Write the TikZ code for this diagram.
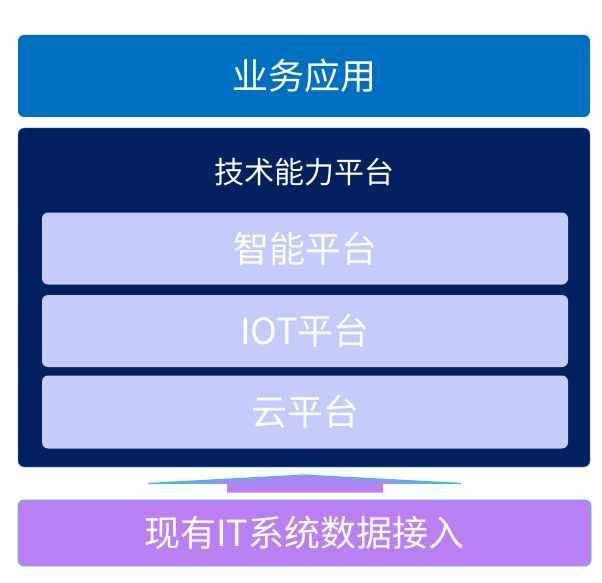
\documentclass[tikz,border=0pt]{standalone}
\usepackage{fontspec}
\usepackage{xcolor}
\newfontfamily\cjk{Noto Sans CJK SC}

\definecolor{appblue}{HTML}{0070C0}
\definecolor{techdark}{HTML}{002060}
\definecolor{layerlav}{HTML}{C5CCFB}
\definecolor{datapurple}{HTML}{BA80F2}
\definecolor{edgecyan}{HTML}{45B8EA}

\tikzset{
	box/.style={rectangle, rounded corners=6pt, inner sep=0pt, text=white, font=\cjk\fontsize{36}{36}\selectfont},
	layer/.style={box, fill=layerlav, minimum width=526pt, minimum height=72pt},
}

\begin{document}
\begin{tikzpicture}[x=1pt,y=-1pt]
	\useasboundingbox (0,0) rectangle (602,583);
	
	\node[box, fill=appblue, minimum width=572pt, minimum height=82pt] (app) at (304,76) {业务应用};
	
	\node[box, fill=techdark, draw=edgecyan, line width=0.4pt, minimum width=572pt, minimum height=339pt] (tech) at (304,297.5) {};
	\node[text=white, font=\cjk\fontsize{30}{30}\selectfont] (techtitle) at (304,172) {技术能力平台};
	
	\node[layer] (smart) at (305,248.5) {智能平台};
	\node[layer] (iot) at (305,331) {IOT平台};
	\node[layer, minimum height=73pt] (cloud) at (305,412) {云平台};
	
	\node[box, fill=datapurple, draw=edgecyan, line width=0.8pt, minimum width=573pt, minimum height=66pt] (data) at (304.5,533) {现有IT系统数据接入};
	
	\fill[datapurple] ([xshift=-77.5pt,yshift=7pt]data.north) -- ([xshift=-77.5pt,yshift=16pt]data.north)
		-- ([xshift=-156.5pt,yshift=16pt]data.north) -- ([yshift=-8pt]tech.south)
		-- ([xshift=156.5pt,yshift=16pt]data.north) -- ([xshift=78.5pt,yshift=16pt]data.north)
		-- ([xshift=78.5pt,yshift=7pt]data.north) -- cycle;
	\draw[edgecyan, line width=1.5pt] ([xshift=-156.5pt,yshift=16pt]data.north) -- ([yshift=-8pt]tech.south)
		-- ([xshift=156.5pt,yshift=16pt]data.north);
	\draw[edgecyan, line width=0.6pt] ([xshift=-156.5pt,yshift=16pt]data.north) -- ([xshift=156.5pt,yshift=16pt]data.north);
\end{tikzpicture}
\end{document}
